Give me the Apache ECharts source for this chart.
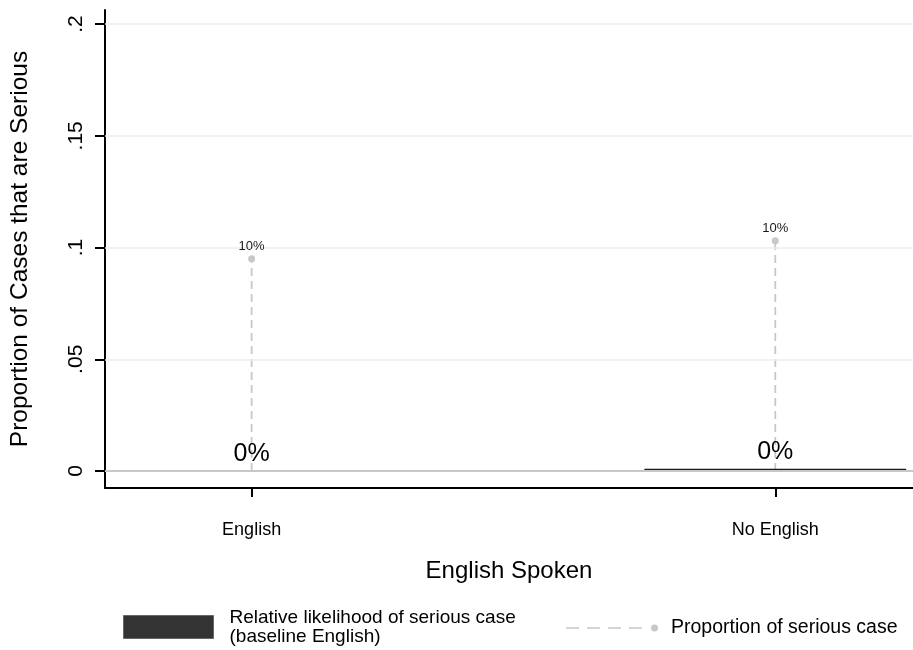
<!DOCTYPE html>
<html>
<head>
<meta charset="utf-8">
<script src="https://cdn.jsdelivr.net/npm/echarts@6/dist/echarts.min.js"></script>
<style>html,body{margin:0;padding:0;background:#fff}#c{width:913px;height:650px}</style>
</head>
<body>
<div id="c"></div>
<script>
const categories = ['English', 'No English'];
const xPositions = [1, 2];
const relLikelihood = [0, 0.001];
const proportion = [0.095, 0.103];
const yTicks = [0, 0.05, 0.1, 0.15, 0.2];
const yTickLabels = ['0', '.05', '.1', '.15', '.2'];
const barName = 'Relative likelihood of serious case\n(baseline English)';
const propName = 'Proportion of serious case';

const FONT = 'Arial, "Liberation Sans", sans-serif';
const pct = v => Math.round(v * 100) + '%';

const chart = echarts.init(document.getElementById('c'), null, {renderer: 'canvas'});
const legendPath = 'path://M0 3.2h13v1.6h-13z M21 3.2h13v1.6h-13z M42 3.2h13v1.6h-13z M63 3.2h13v1.6h-13z M85 4a3.5 3.5 0 1 0 7 0a3.5 3.5 0 1 0 -7 0z';

chart.setOption({
  animation: false,
  textStyle: {fontFamily: FONT},
  grid: {left: 103, right: 0, top: 10, bottom: 162, containLabel: false},
  legend: [
    {
      data: [{name: barName, icon: 'rect', itemStyle: {color: '#333', borderColor: '#666', borderWidth: 1}}],
      left: 118, top: 603, itemWidth: 90, itemHeight: 23,
      selectedMode: false,
      textStyle: {fontSize: 19, lineHeight: 19, color: '#000', fontFamily: FONT, padding: [0, 0, 0, 11]}
    },
    {
      data: [{name: propName, icon: legendPath, itemStyle: {color: '#c8c8c8'}}],
      left: 561, top: 613, itemWidth: 92, itemHeight: 7,
      selectedMode: false,
      textStyle: {fontSize: 19.5, color: '#000', fontFamily: FONT, padding: [0, 0, 0, 8]}
    }
  ],
  xAxis: {
    type: 'value', min: 0.72, max: 2.263,
    name: 'English Spoken', nameLocation: 'middle', nameGap: 71,
    nameTextStyle: {fontSize: 24, color: '#000', fontFamily: FONT},
    axisLine: {show: true, onZero: false, lineStyle: {color: '#000', width: 2}},
    axisTick: {show: true, length: 9, customValues: xPositions, lineStyle: {color: '#000', width: 2}},
    axisLabel: {
      customValues: xPositions, margin: 33, fontSize: 18, color: '#000', fontFamily: FONT,
      formatter: v => categories[xPositions.indexOf(Math.round(v))] || ''
    },
    splitLine: {show: false}
  },
  yAxis: {
    type: 'value', min: -0.0076, max: 0.2063,
    name: 'Proportion of Cases that are Serious', nameLocation: 'middle', nameGap: 72,
    nameTextStyle: {fontSize: 24.5, color: '#000', fontFamily: FONT},
    axisLine: {show: true, onZero: false, lineStyle: {color: '#000', width: 2}},
    axisTick: {show: true, length: 10, customValues: yTicks, lineStyle: {color: '#000', width: 2}},
    axisLabel: {
      customValues: yTicks, rotate: 90, margin: 18, fontSize: 21, color: '#000', fontFamily: FONT,
      formatter: v => yTickLabels[yTicks.findIndex(t => Math.abs(t - v) < 1e-9)]
    },
    splitLine: {show: false}
  },
  series: [
    {
      name: 'stems',
      type: 'custom',
      z: 2,
      data: xPositions.map((x, i) => [x, proportion[i]]),
      renderItem: (params, api) => {
        const x = api.value(0), v = api.value(1);
        const p0 = api.coord([x, 0]);
        const p1 = api.coord([x, v]);
        return {
          type: 'line',
          shape: {x1: p0[0], y1: p0[1], x2: p1[0], y2: p1[1]},
          style: {stroke: '#c8c8c8', lineWidth: 1.8, lineDash: [8, 5]}
        };
      },
      markLine: {
        silent: true, symbol: ['none', 'none'], label: {show: false},
        data: yTicks.map(t => ({
          yAxis: t,
          lineStyle: t === 0 ? {color: '#c8c8c8', width: 1.8, type: 'solid'} : {color: '#e6eff2', width: 1.5, type: 'solid'}
        }))
      }
    },
    {
      name: barName,
      type: 'custom',
      z: 4,
      itemStyle: {color: '#222'},
      data: xPositions.map((x, i) => [x, relLikelihood[i]]),
      renderItem: (params, api) => {
        const x = api.value(0), v = api.value(1);
        const tl = api.coord([x - 0.25, v]);
        const br = api.coord([x + 0.25, 0]);
        return {
          type: 'rect',
          shape: {x: tl[0], y: tl[1], width: br[0] - tl[0], height: br[1] - tl[1]},
          style: {fill: '#1a1a1a'},
          textContent: {style: {text: pct(v), fontSize: 25, fill: '#000', fontFamily: FONT}},
          textConfig: {position: 'top', distance: 4}
        };
      }
    },
    {
      name: propName,
      type: 'scatter',
      z: 5,
      symbol: 'circle',
      symbolSize: 7,
      itemStyle: {color: '#c8c8c8', opacity: 1},
      data: xPositions.map((x, i) => [x, proportion[i]]),
      label: {
        show: true, position: 'top', distance: 2, fontSize: 13, color: '#1a1a1a', fontFamily: FONT,
        formatter: p => pct(p.value[1])
      }
    }
  ]
});
</script>
</body>
</html>
